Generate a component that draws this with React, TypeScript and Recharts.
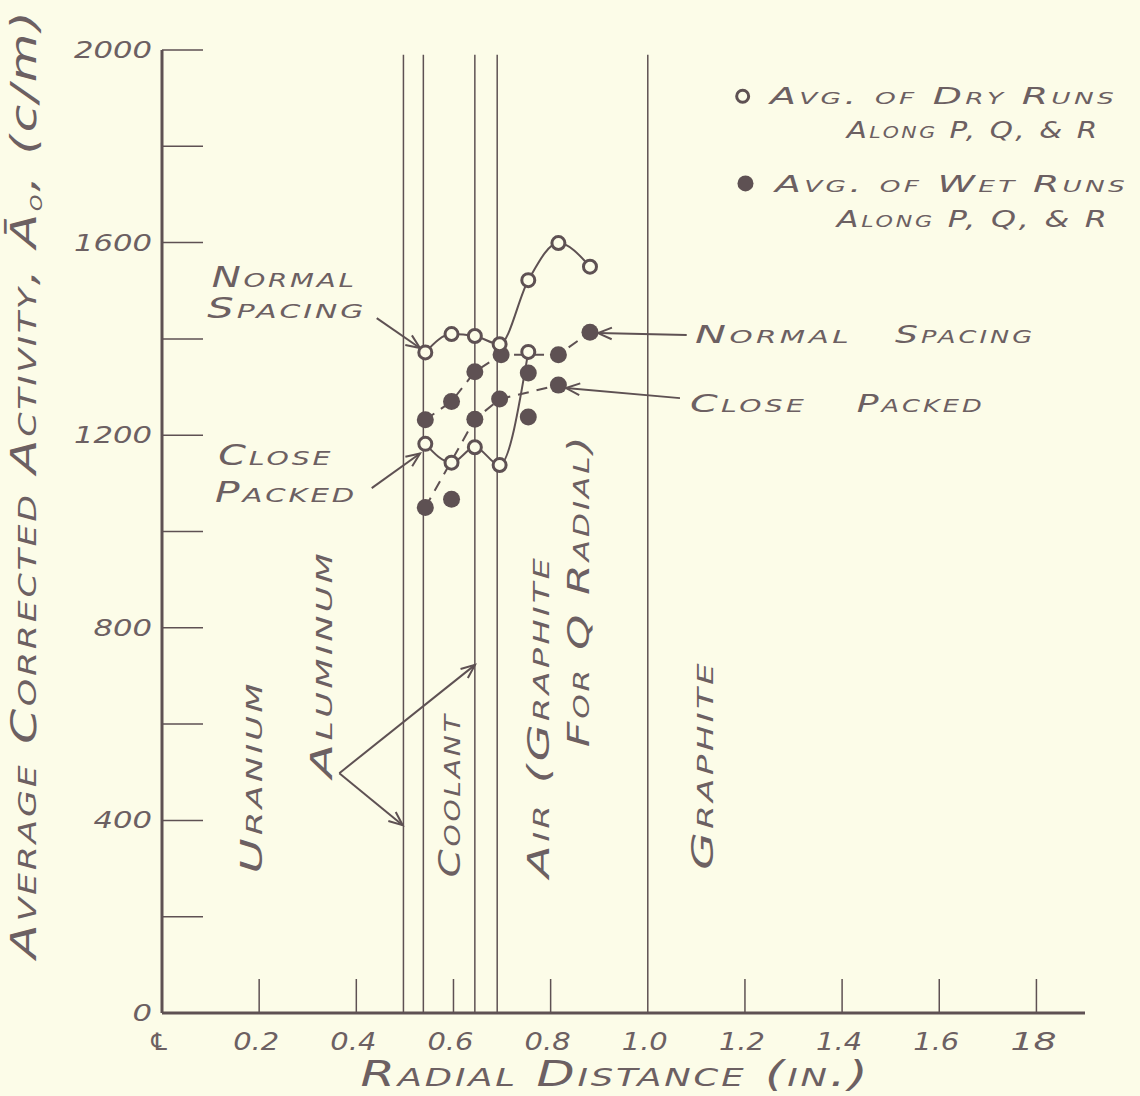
import React from 'react';
import {
  ComposedChart,
  Line,
  Scatter,
  XAxis,
  YAxis,
  ReferenceLine,
  ReferenceDot,
  Label,
} from 'recharts';

// ---------- data ----------
const dryX = [0.542, 0.596, 0.644, 0.695, 0.754, 0.816, 0.881];
const dryNormal = [1372, 1410, 1406, 1389, 1522, 1599, 1550];
const dryCloseX = [0.542, 0.596, 0.644, 0.695, 0.754];
const dryClose = [1182, 1143, 1175, 1138, 1373];
const wetNormalX = [0.542, 0.596, 0.644, 0.698, 0.754, 0.816, 0.881];
const wetNormal = [1232, 1270, 1332, 1367, 1329, 1367, 1414];
const wetCloseX = [0.542, 0.596, 0.644, 0.695, 0.754, 0.816];
const wetClose = [1050, 1067, 1233, 1275, 1238, 1304];
// indices of the wet points that the dashed faired curves pass through
const wetNormalFaired = [0, 1, 2, 3, 5, 6];
const wetCloseFaired = [0, 2, 3, 5];

// region boundaries (in.)
const boundaries = [0.497, 0.538, 0.644, 0.69, 1.0];

const xTicks = [0, 0.2, 0.4, 0.6, 0.8, 1.0, 1.2, 1.4, 1.6, 1.8];
const xTickLabels = ['\u2104', '0.2', '0.4', '0.6', '0.8', '1.0', '1.2', '1.4', '1.6', '18'];
const yTicks = [0, 200, 400, 600, 800, 1000, 1200, 1400, 1600, 1800, 2000];
const yLabelled = [0, 400, 800, 1200, 1600, 2000];

// ---------- style ----------
const BG = '#fcfce8';
const INK = '#5e5153';
const TEXT = '#6c6062';
const FONT = '"DejaVu Sans", "Noto Sans", sans-serif';

const toPts = (xs: number[], ys: number[]) => xs.map((x, i) => ({ x, y: ys[i] }));
const pick = (xs: number[], ys: number[], idx: number[]) => idx.map((i) => ({ x: xs[i], y: ys[i] }));

const dryNormalPts = toPts(dryX, dryNormal);
const dryClosePts = toPts(dryCloseX, dryClose);
const wetNormalPts = toPts(wetNormalX, wetNormal);
const wetClosePts = toPts(wetCloseX, wetClose);
const wetNormalLine = pick(wetNormalX, wetNormal, wetNormalFaired);
const wetCloseLine = pick(wetCloseX, wetClose, wetCloseFaired);

// annotations (data coordinates)
const textNotes = [
  { x: 0.1023, y: 1508, t: 'Normal', len: 145, size: 28 },
  { x: 0.0932, y: 1443, t: 'Spacing', len: 159, size: 28 },
  { x: 0.1159, y: 1138, t: 'Close', len: 115, size: 28 },
  { x: 0.1091, y: 1062, t: 'Packed', len: 142, size: 28 },
  { x: 1.0972, y: 1391, t: 'Normal', len: 157, size: 24 },
  { x: 1.5089, y: 1391, t: 'Spacing', len: 140, size: 24 },
  { x: 1.0869, y: 1249, t: 'Close', len: 117, size: 24 },
  { x: 1.43, y: 1249, t: 'Packed', len: 128, size: 24 },
  { x: 1.2516, y: 1887, t: 'Avg. of Dry Runs', len: 347, size: 23 },
  { x: 1.4094, y: 1817, t: 'Along P, Q, & R', len: 253, size: 23 },
  { x: 1.2619, y: 1706, t: 'Avg. of Wet Runs', len: 353, size: 23 },
  { x: 1.3889, y: 1633, t: 'Along P, Q, & R', len: 273, size: 23 },
];

const regionNotes = [
  { x: 0.1846, y: 490, t: 'Uranium', len: 193 },
  { x: 0.3287, y: 725, t: 'Aluminum', len: 228 },
  { x: 0.5928, y: 453, t: 'Coolant', len: 165 },
  { x: 0.7746, y: 616, t: 'Air (Graphite', len: 323 },
  { x: 0.857, y: 878, t: 'For Q Radial)', len: 314 },
  { x: 1.1136, y: 515, t: 'Graphite', len: 210 },
];

const arrows = [
  { a: { x: 0.365, y: 498 }, b: { x: 0.4955, y: 390 } },
  { a: { x: 0.365, y: 498 }, b: { x: 0.6443, y: 723 } },
  { a: { x: 0.442, y: 1443 }, b: { x: 0.531, y: 1381 } },
  { a: { x: 0.4317, y: 1090 }, b: { x: 0.5311, y: 1162 } },
  { a: { x: 1.0801, y: 1408 }, b: { x: 0.8975, y: 1412 } },
  { a: { x: 1.0663, y: 1277 }, b: { x: 0.8316, y: 1298 } },
];

const legendMarks = [
  { x: 1.1953, y: 1904, open: true },
  { x: 1.2011, y: 1723, open: false },
];

// ---------- shapes ----------
const OpenDot = (p: any) => (
  <circle cx={p.cx} cy={p.cy} r={6.5} fill={BG} stroke={INK} strokeWidth={3} />
);
const SolidDot = (p: any) => <circle cx={p.cx} cy={p.cy} r={8.5} fill={INK} />;

const ArrowShape = (p: any) => {
  const { x1, y1, x2, y2 } = p;
  const ang = Math.atan2(y2 - y1, x2 - x1);
  const L = 15;
  const w = 0.4;
  const hx1 = x2 - L * Math.cos(ang - w);
  const hy1 = y2 - L * Math.sin(ang - w);
  const hx2 = x2 - L * Math.cos(ang + w);
  const hy2 = y2 - L * Math.sin(ang + w);
  return (
    <g>
      <line x1={x1} y1={y1} x2={x2} y2={y2} stroke={INK} strokeWidth={2} />
      <path d={`M${hx1},${hy1} L${x2},${y2} L${hx2},${hy2}`} fill="none" stroke={INK} strokeWidth={2} />
    </g>
  );
};

const textStyle = (size: number): React.CSSProperties => ({
  fontFamily: FONT,
  fontSize: size,
  fontStyle: 'italic',
  fontVariant: 'small-caps',
  letterSpacing: 2,
  fill: TEXT,
});

const XTick = (p: any) => {
  const { x, y, payload, index } = p;
  const v = payload.value;
  const i = xTicks.indexOf(v);
  const label = i >= 0 ? xTickLabels[i] : String(v);
  const showLine = v !== 0 && Math.abs(v - 1.0) > 1e-6;
  return (
    <g key={`xt-${index}`}>
      {showLine && <line x1={x} y1={y} x2={x} y2={y - 34} stroke={INK} strokeWidth={1.5} />}
      <text
        x={x - 3}
        y={y + 37}
        textAnchor="middle"
        style={{ fontFamily: FONT, fontSize: 24, fontStyle: 'italic', fill: TEXT }}
        textLength={v === 0 ? undefined : 46}
        lengthAdjust="spacingAndGlyphs"
      >
        {label}
      </text>
    </g>
  );
};

const YTick = (p: any) => {
  const { x, y, payload, index } = p;
  const v = payload.value;
  const labelled = yLabelled.includes(v);
  const s = String(v);
  return (
    <g key={`yt-${index}`}>
      {v !== 0 && <line x1={x} y1={y} x2={x + 41} y2={y} stroke={INK} strokeWidth={1.5} />}
      {labelled && (
        <text
          x={x - 10}
          y={y + 8}
          textAnchor="end"
          style={{ fontFamily: FONT, fontSize: 23, fontStyle: 'italic', fill: TEXT }}
          textLength={s.length * 19.5}
          lengthAdjust="spacingAndGlyphs"
        >
          {s}
        </text>
      )}
    </g>
  );
};

const YTitle = (p: any) => {
  const vb = p.viewBox || { x: 0, y: 50, width: 162, height: 963 };
  const cx = vb.x + 36;
  const cy = vb.y + vb.height / 2 - 48;
  return (
    <text
      x={cx}
      y={cy}
      transform={`rotate(-90 ${cx} ${cy})`}
      textAnchor="middle"
      style={textStyle(36)}
      textLength={950}
      lengthAdjust="spacingAndGlyphs"
    >
      {'Average Corrected Activity, \u0100'}
      <tspan dy={6} style={{ fontSize: 22 }}>
        o
      </tspan>
      <tspan dy={-6}>{', '}</tspan>
      <tspan style={{ fontVariant: 'normal' }}>(c/m)</tspan>
    </text>
  );
};

const XTitle = (p: any) => {
  const vb = p.viewBox || { x: 162, y: 1013, width: 923, height: 83 };
  const cx = vb.x + vb.width / 2 - 8;
  const cy = vb.y + 73;
  return (
    <text x={cx} y={cy} textAnchor="middle" style={textStyle(35)} textLength={510} lengthAdjust="spacingAndGlyphs">
      Radial Distance (in.)
    </text>
  );
};

export default function App() {
  return (
    <div
      style={{
        position: 'absolute',
        left: 0,
        top: 0,
        width: 1140,
        height: 1096,
        background: BG,
        overflow: 'hidden',
      }}
    >
      <ComposedChart width={1140} height={1096} margin={{ top: 50, right: 55, bottom: 0, left: 0 }}>
        <XAxis
          type="number"
          dataKey="x"
          domain={[0, 1.9]}
          ticks={xTicks}
          interval={0}
          allowDataOverflow
          height={83}
          axisLine={{ stroke: INK, strokeWidth: 3 }}
          tickLine={false}
          tickSize={0}
          tickMargin={0}
          tick={<XTick />}
        >
          <Label content={<XTitle />} />
        </XAxis>
        <YAxis
          type="number"
          dataKey="y"
          domain={[0, 2000]}
          ticks={yTicks}
          interval={0}
          allowDataOverflow
          width={162}
          axisLine={{ stroke: INK, strokeWidth: 3 }}
          tickLine={false}
          tickSize={0}
          tickMargin={0}
          tick={<YTick />}
        >
          <Label content={<YTitle />} />
        </YAxis>

        {boundaries.map((b) => (
          <ReferenceLine
            key={`b-${b}`}
            segment={[
              { x: b, y: 0 },
              { x: b, y: 1990 },
            ]}
            stroke={INK}
            strokeWidth={1.5}
          />
        ))}

        {arrows.map((a, i) => (
          <ReferenceLine key={`ar-${i}`} segment={[a.a, a.b]} shape={ArrowShape} />
        ))}

        {regionNotes.map((n, i) => (
          <ReferenceDot
            key={`rn-${i}`}
            x={n.x}
            y={n.y}
            r={0}
            shape={(p: any) => (
              <text
                x={p.cx}
                y={p.cy}
                transform={`rotate(-90 ${p.cx} ${p.cy})`}
                textAnchor="middle"
                dominantBaseline="central"
                style={textStyle(30)}
                textLength={n.len}
                lengthAdjust="spacingAndGlyphs"
              >
                {n.t}
              </text>
            )}
          />
        ))}

        {textNotes.map((n, i) => (
          <ReferenceDot
            key={`tn-${i}`}
            x={n.x}
            y={n.y}
            r={0}
            shape={(p: any) => (
              <text
                x={p.cx}
                y={p.cy}
                textAnchor="start"
                style={textStyle(n.size)}
                textLength={n.len}
                lengthAdjust="spacingAndGlyphs"
              >
                {n.t}
              </text>
            )}
          />
        ))}

        {legendMarks.map((m, i) => (
          <ReferenceDot
            key={`lm-${i}`}
            x={m.x}
            y={m.y}
            r={0}
            shape={(p: any) =>
              m.open ? (
                <circle cx={p.cx} cy={p.cy} r={6} fill={BG} stroke={INK} strokeWidth={3} />
              ) : (
                <circle cx={p.cx} cy={p.cy} r={8} fill={INK} />
              )
            }
          />
        ))}

        <Line
          data={dryNormalPts}
          dataKey="y"
          type="monotone"
          stroke={INK}
          strokeWidth={2}
          dot={false}
          activeDot={false}
          isAnimationActive={false}
        />
        <Line
          data={dryClosePts}
          dataKey="y"
          type="monotone"
          stroke={INK}
          strokeWidth={2}
          dot={false}
          activeDot={false}
          isAnimationActive={false}
        />
        <Line
          data={wetNormalLine}
          dataKey="y"
          type="linear"
          stroke={INK}
          strokeWidth={2}
          strokeDasharray="11 8"
          dot={false}
          activeDot={false}
          isAnimationActive={false}
        />
        <Line
          data={wetCloseLine}
          dataKey="y"
          type="linear"
          stroke={INK}
          strokeWidth={2}
          strokeDasharray="11 8"
          dot={false}
          activeDot={false}
          isAnimationActive={false}
        />

        <Scatter data={wetNormalPts} dataKey="y" shape={SolidDot} isAnimationActive={false} />
        <Scatter data={wetClosePts} dataKey="y" shape={SolidDot} isAnimationActive={false} />
        <Scatter data={dryNormalPts} dataKey="y" shape={OpenDot} isAnimationActive={false} />
        <Scatter data={dryClosePts} dataKey="y" shape={OpenDot} isAnimationActive={false} />
      </ComposedChart>
    </div>
  );
}
